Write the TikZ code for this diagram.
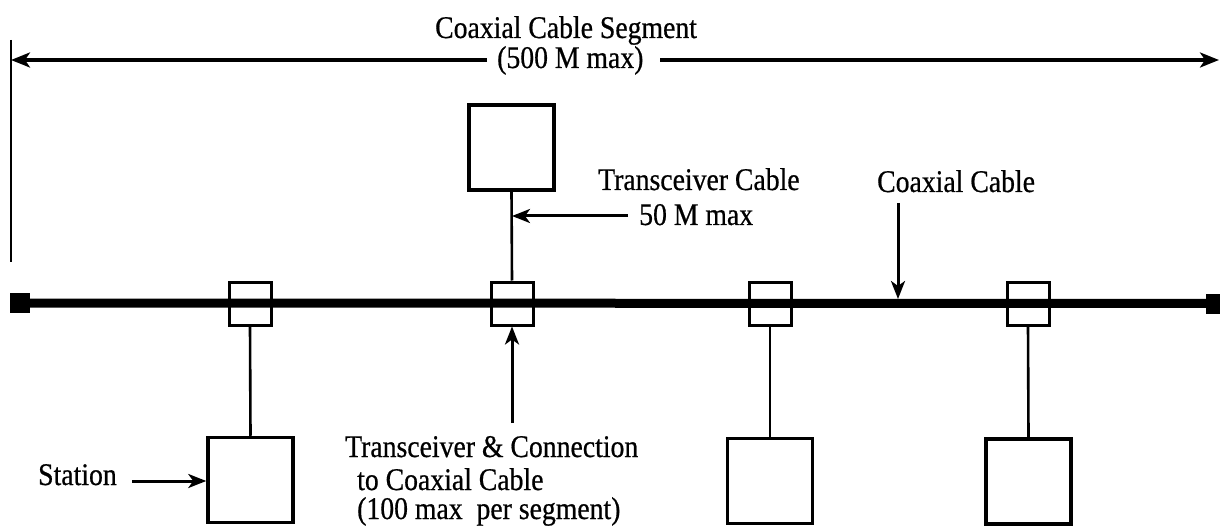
\documentclass[tikz,border=0pt]{standalone}
\usepackage{fontspec}
\setmainfont{Liberation Serif}[FakeStretch=0.88,FakeBold=0.6]
\usetikzlibrary{arrows.meta}
\begin{document}
\begin{tikzpicture}[x=1pt,y=-1pt,
  coax/.style={line width=9pt},
  tbox/.style={draw,line width=3pt,minimum width=42pt,minimum height=43pt,inner sep=0pt},
  station/.style={draw,line width=3.5pt,minimum width=85pt,minimum height=85pt,inner sep=0pt},
  term/.style={fill=black,minimum width=20pt,minimum height=20pt,inner sep=0pt},
  link/.style={line width=2.6pt},
  pointer/.style={line width=3pt,-{Stealth[length=18pt,width=14pt,inset=5pt]}},
  dimline/.style={line width=3.2pt,-{Stealth[length=19pt,width=15pt,inset=5pt]}},
  lbl/.style={font=\fontsize{31.5}{35}\selectfont,inner sep=0pt,anchor=base west}]
\useasboundingbox (0,0) rectangle (1220,529);
% terminators and coax
\node[term] (tl) at (19.5,303) {};
\node[term,minimum width=15pt] (tr) at (1213,303.5) {};
\draw[coax] (tl.center) -- (tr.center);
% transceivers
\node[tbox] (t1) at (250,303.5) {};
\node[tbox] (t2) at (512,303.5) {};
\node[tbox] (t3) at (770,303.5) {};
\node[tbox] (t4) at (1028,303.5) {};
% stations
\node[station] (s2) at (511.5,147.5) {};
\node[station] (s1) at (250.5,480) {};
\node[station] (s3) at (770,481) {};
\node[station] (s4) at (1028.5,481.5) {};
% transceiver cables
\draw[link] (s2.south) -- (t2.north);
\draw[link] (t1.south) -- (s1.north);
\draw[link] (t3.south) -- (s3.north);
\draw[link] (t4.south) -- (s4.north);
% segment dimension
\coordinate (vt) at (11,40);
\coordinate (vb) at (11,262);
\draw[line width=2.6pt] (vt) -- (vb);
\node[lbl] (title) at (435,38) {Coaxial Cable Segment};
\node[lbl] (dimlbl) at (497,68) {(500 M max)};
\coordinate (dimLa) at (487,60);
\coordinate (dimL) at (11,60);
\coordinate (dimRa) at (660,60);
\coordinate (dimR) at (1219,60);
\draw[dimline] (dimLa) -- (dimL);
\draw[dimline] (dimRa) -- (dimR);
% transceiver cable label
\node[lbl] (tcl1) at (598,190) {Transceiver Cable};
\node[lbl] (tcl2) at (639,225) {50 M max};
\coordinate (tcA) at (628,216);
\draw[pointer] (tcA) -- (tcA -| t2.center);
% coaxial cable label
\node[lbl] (cxl) at (877,192) {Coaxial Cable};
\coordinate (cxA) at (898,203);
\coordinate (cxB) at (898,299);
\draw[pointer] (cxA) -- (cxB);
% station label
\node[lbl] (stl) at (38,485) {Station};
\coordinate (stA) at (132,481);
\draw[pointer] (stA) -- (stA -| s1.west);
% transceiver & connection label
\node[lbl] (tc1) at (345,457) {Transceiver \& Connection};
\node[lbl] (tc2) at (357,490) {to Coaxial Cable};
\node[lbl] (tc3) at (357,519) {(100 max~ per segment)};
\coordinate (tcB) at (512,423);
\draw[pointer] (tcB) -- (t2.south);
\end{tikzpicture}
\end{document}
